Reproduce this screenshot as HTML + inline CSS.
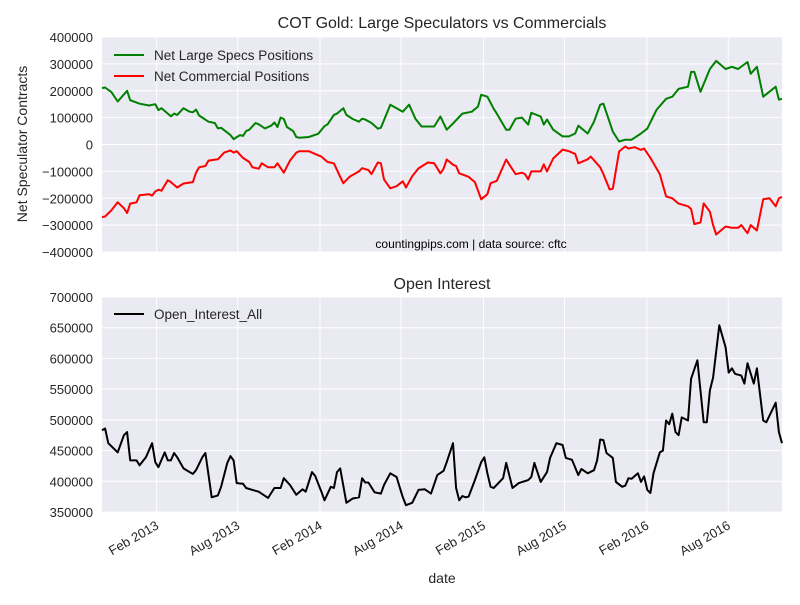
<!DOCTYPE html>
<html><head><meta charset="utf-8"><style>
body{margin:0;background:#fff;}
svg text{font-family:"Liberation Sans",Arial,sans-serif;}
</style></head><body>
<svg id="c" width="800" height="600" xmlns="http://www.w3.org/2000/svg"></svg>
<script>
const startDate = "2012-10-02";
const specWeeks = [0,1,3,5,8,9,12,15,17,18,19,22,23,24,26,28,29,30,31,34,36,37,38,41,42,44,45,46,47,49,50,52,54,55,56,57,58,59,61,62,63,66,69,71,72,74,75,77,78,80,82,83,84,86,88,89,92,96,98,100,102,106,108,110,112,115,118,120,121,123,125,126,129,130,132,134,136,137,140,141,142,144,147,149,151,152,155,157,159,160,163,165,167,169,172,174,177,180,182,184,187,188,189,191,194,196,199,201,203,206,207,209,211,215,216,217];
const specValues = [210,212,195,160,200,165,152,145,150,128,135,105,115,110,135,122,120,130,108,85,80,60,62,35,20,35,32,50,55,80,75,60,70,82,65,100,95,65,50,28,25,28,40,68,75,110,115,135,110,95,85,96,93,80,59,62,148,122,148,96,67,67,104,55,78,115,122,141,185,178,133,115,55,55,96,100,74,118,104,74,93,55,30,30,41,70,41,85,148,152,48,11,18,18,41,59,130,170,178,207,215,270,270,196,281,311,281,289,281,307,263,289,178,215,167,170];
const commWeeks = [0,1,3,5,7,8,9,11,12,15,16,17,18,19,21,22,24,26,29,30,31,33,34,37,39,41,42,43,45,47,48,50,51,53,55,56,58,60,62,63,66,69,70,72,74,76,77,79,82,83,85,86,88,89,90,92,94,96,97,99,101,104,106,108,109,110,112,113,114,117,119,121,123,124,126,129,130,132,134,135,136,137,140,141,142,144,147,149,151,152,155,156,159,160,162,163,165,167,168,170,172,173,175,176,178,180,182,184,187,188,189,191,192,194,195,196,199,201,203,204,206,207,209,211,213,215,216,217];
const commValues = [-270,-268,-245,-215,-237,-255,-220,-215,-189,-185,-190,-175,-168,-172,-133,-140,-160,-145,-140,-105,-85,-80,-60,-55,-30,-22,-30,-25,-50,-65,-85,-90,-70,-85,-85,-70,-105,-60,-30,-25,-25,-40,-45,-65,-70,-120,-144,-120,-100,-88,-95,-110,-67,-70,-130,-163,-155,-137,-160,-118,-89,-67,-70,-107,-90,-56,-75,-80,-107,-120,-140,-204,-185,-144,-135,-56,-75,-110,-105,-110,-130,-100,-100,-74,-100,-52,-19,-25,-35,-70,-55,-45,-85,-110,-167,-165,-26,-7,-15,-10,-20,-15,-50,-70,-110,-193,-200,-220,-230,-240,-296,-290,-219,-250,-300,-335,-305,-310,-310,-300,-330,-300,-320,-204,-200,-230,-200,-195];
const oiWeeks = [0,1,2,5,7,8,9,11,12,14,16,17,18,20,21,22,23,24,26,28,29,30,32,33,35,37,38,40,41,42,43,45,46,48,50,53,55,57,58,60,62,64,65,67,68,70,71,73,74,75,76,78,80,82,83,84,85,87,89,90,92,94,96,97,99,101,103,105,107,109,110,112,113,114,115,116,117,119,121,122,123,124,125,128,129,131,133,136,137,138,140,142,143,145,147,148,150,152,153,155,157,158,159,160,161,163,164,166,167,168,169,171,172,173,174,175,176,178,179,180,181,182,183,184,185,187,188,190,192,193,194,195,197,199,200,201,202,204,205,206,208,209,211,212,215,216,217];
const oiValues = [483,486,462,447,475,480,434,434,426,439,462,431,423,447,434,434,446,439,421,415,412,418,439,446,374,377,391,430,441,434,397,396,389,386,383,373,389,389,405,394,378,387,383,415,409,383,369,391,389,415,421,365,372,374,405,398,398,382,380,394,413,407,374,361,365,386,387,380,410,417,431,462,389,369,376,374,375,402,431,439,413,391,389,405,430,389,397,402,407,430,399,415,438,462,459,438,435,410,420,413,418,434,468,467,446,438,399,391,393,405,404,413,399,408,386,381,413,447,450,499,493,510,480,475,504,499,567,597,496,496,548,569,654,618,577,584,575,572,559,592,559,584,499,496,528,480,462];
const topTicks = [400000,300000,200000,100000,0,-100000,-200000,-300000,-400000];
const botTicks = [700000,650000,600000,550000,500000,450000,400000,350000];
const xTickDates = ["2013-02-01","2013-08-01","2014-02-01","2014-08-01","2015-02-01","2015-08-01","2016-02-01","2016-08-01"];
const xTickLabels = ["Feb 2013","Aug 2013","Feb 2014","Aug 2014","Feb 2015","Aug 2015","Feb 2016","Aug 2016"];

const NS="http://www.w3.org/2000/svg", svg=document.getElementById('c');
const L=102,R=782;
const t0=Date.parse(startDate), t1=t0+217*7*864e5;
function xDate(s){return L+(Date.parse(s)-t0)/(t1-t0)*(R-L);}
function xWeek(w){return L+(w*7*864e5)/(t1-t0)*(R-L);}
function yTop(v){return 37+(400-v)/800*215;}
function yBot(v){return 297+(700-v)/350*215;}
function el(tag,attrs,parent){const e=document.createElementNS(NS,tag);for(const k in attrs)e.setAttribute(k,attrs[k]);(parent||svg).appendChild(e);return e;}

function panel(name,y0,ticks,yf,scale){
  const g=el('g',{});
  
  
  el('rect',{x:L,y:y0,width:R-L,height:215,fill:'#EAEAF2'},g);
  ticks.forEach(t=>{const y=yf(t/scale);
    const ln=el('line',{x1:L,x2:R,y1:y,y2:y,stroke:'#fff','stroke-width':1},g);
    
    
    const tx=el('text',{x:93,y:y+5,'text-anchor':'end','font-size':13,fill:'#262626'},g);
    
    
    tx.textContent=(t<0?'\u2212'+(-t):String(t));
  });
  xTickDates.forEach(d=>{const x=xDate(d);
    const ln=el('line',{x1:x,x2:x,y1:y0,y2:y0+215,stroke:'#fff','stroke-width':1},g);
    
    
  });
  return g;
}
function line(name,weeks,vals,yf,color){
  const n=Math.min(weeks.length,vals.length);let d='';
  for(let i=0;i<n;i++)d+=(i?'L':'M')+xWeek(weeks[i]).toFixed(1)+','+yf(vals[i]).toFixed(1);
  const p=el('path',{d:d,fill:'none',stroke:color,'stroke-width':2,'stroke-linejoin':'round'});
  
  
}
panel('top-plot-area',37,topTicks,yTop,1000);
panel('bottom-plot-area',297,botTicks,yBot,1000);
line('net-large-specs-line',specWeeks,specValues,yTop,'#008000');
line('net-commercial-line',commWeeks,commValues,yTop,'#FF0000');
line('open-interest-line',oiWeeks,oiValues,yBot,'#000');

xTickDates.forEach((d,i)=>{const x=xDate(d);
  const t=el('text',{x:x+3,y:528,'text-anchor':'end','font-size':13,fill:'#262626',transform:`rotate(-30 ${x+3} 528)`});
  
  
  t.textContent=xTickLabels[i];
});
function txt(name,x,y,s,str,anchor,extra){const t=el('text',Object.assign({x:x,y:y,'font-size':s,fill:'#262626','text-anchor':anchor||'middle'},extra||{}));
  
  
  t.textContent=str;return t;}
txt('top-chart-title',442,28,16,'COT Gold: Large Speculators vs Commercials');
txt('bottom-chart-title',442,289,16,'Open Interest');
txt('x-axis-title',442,583,14,'date');
txt('y-axis-title',27,144,14,'Net Speculator Contracts','middle',{transform:'rotate(-90 27 144)'});
txt('source-note',471,248,12,'countingpips.com | data source: cftc','middle',{fill:'#000'});
function legend(name,y,color,label){const g=el('g',{});
  
  
  el('line',{x1:114,x2:144,y1:y,y2:y,stroke:color,'stroke-width':2},g);
  const t=el('text',{x:154,y:y+5,'font-size':13.5,fill:'#262626'},g);t.textContent=label;}
legend('legend-entry-large-specs',55,'#008000','Net Large Specs Positions');
legend('legend-entry-commercial',76,'#FF0000','Net Commercial Positions');
legend('legend-entry-open-interest',314,'#000','Open_Interest_All');
</script>
</body></html>
